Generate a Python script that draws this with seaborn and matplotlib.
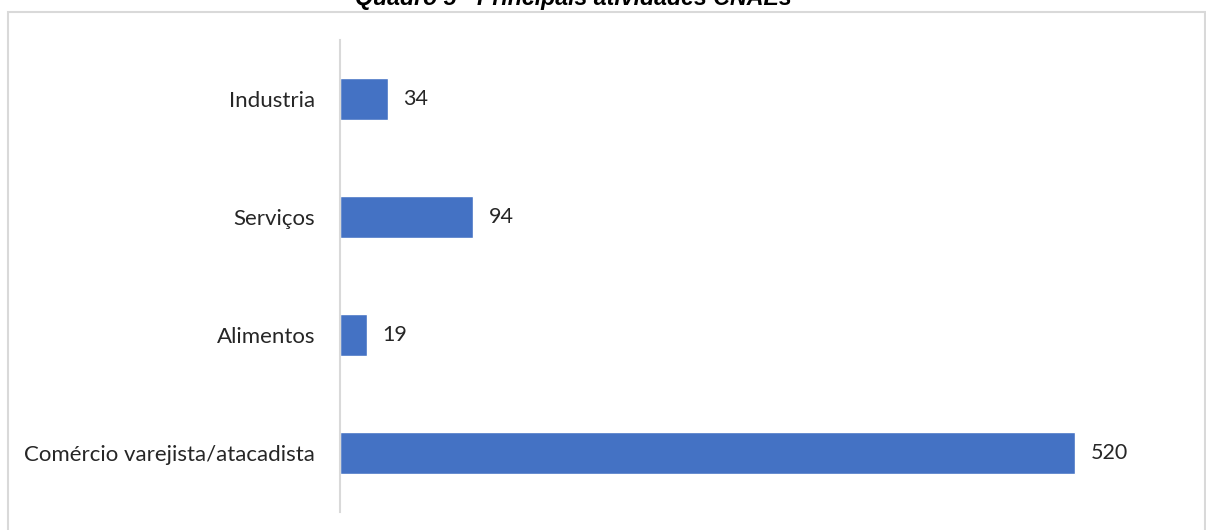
import matplotlib
matplotlib.use("Agg")
import matplotlib.pyplot as plt
import seaborn as sns
import pandas as pd
from matplotlib.patches import Rectangle

categories = ["Industria", "Serviços", "Alimentos", "Comércio varejista/atacadista"]
values = [34, 94, 19, 520]
title = "Quadro 5 - Principais atividades CNAEs"

sns.set_theme(style="white")
plt.rcParams['font.family'] = ['Lato', 'DejaVu Sans']

W, H = 1206, 530
fig = plt.figure(figsize=(W / 100, H / 100), dpi=100)
ax = fig.add_axes([340 / W, 1 - 512 / H, (1188 - 340) / W, (512 - 40) / H])

df = pd.DataFrame({"cat": categories, "val": values})
sns.barplot(data=df, x="val", y="cat", orient="h", color="#4472C4",
            saturation=1, width=0.35, ax=ax)

ax.set_xlim(0, 600)
ax.set_xlabel("")
ax.set_ylabel("")
ax.set_xticks([])
for s in ["top", "right", "bottom"]:
    ax.spines[s].set_visible(False)
ax.spines["left"].set_color("#d9d9d9")
ax.spines["left"].set_linewidth(1.5)
ax.tick_params(axis="y", length=0, pad=18, labelsize=16, labelcolor="#262626")

for i, v in enumerate(values):
    ax.text(v + 11, i, str(v), va="center", ha="left", fontsize=15.5, color="#262626")

# Border around chart area
fig.patches.append(Rectangle((7.5 / W, -0.05), (1205 - 7.5) / W, 1.05 - 12 / H,
                             transform=fig.transFigure, fill=False,
                             edgecolor="#d9d9d9", linewidth=1.5))

fig.text(573 / W, 1 + 2 / H, title, ha="center", va="center",
         fontsize=16.7, fontweight="bold", fontstyle="italic",
         family=["Liberation Sans", "DejaVu Sans"], color="#000000")

fig.savefig("out.png", dpi=100)
